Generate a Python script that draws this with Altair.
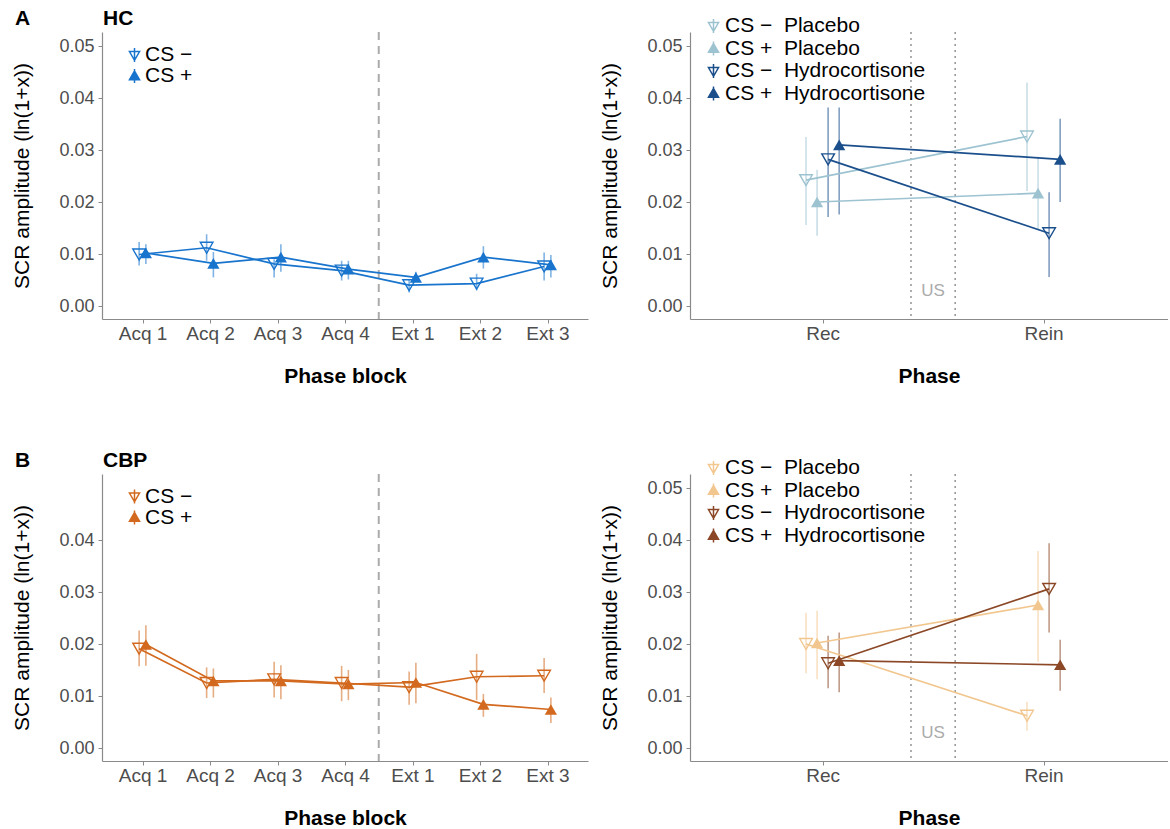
import json
import altair as alt
import pandas as pd

# ---------------- data ----------------
blocks = ["Acq 1", "Acq 2", "Acq 3", "Acq 4", "Ext 1", "Ext 2", "Ext 3"]
phases = ["Rec", "Rein"]
cs_labels = ["CS \u2212", "CS +"]
treat_labels = ["CS \u2212 \u00a0Placebo", "CS + \u00a0Placebo",
                "CS \u2212 \u00a0Hydrocortisone", "CS + \u00a0Hydrocortisone"]

# A: HC, phase blocks
hc_minus_mean = [0.0099, 0.0112, 0.0081, 0.0068, 0.0040, 0.0043, 0.0076]
hc_minus_lo = [0.0078, 0.0087, 0.0055, 0.0049, 0.0026, 0.0030, 0.0049]
hc_minus_hi = [0.0123, 0.0138, 0.0090, 0.0087, 0.0051, 0.0062, 0.0103]
hc_plus_mean = [0.0102, 0.0082, 0.0094, 0.0071, 0.0055, 0.0094, 0.0079]
hc_plus_lo = [0.0081, 0.0055, 0.0066, 0.0051, 0.0047, 0.0072, 0.0055]
hc_plus_hi = [0.0119, 0.0104, 0.0119, 0.0087, 0.0066, 0.0115, 0.0098]

# B: CBP, phase blocks
cbp_minus_mean = [0.0191, 0.0125, 0.0132, 0.0125, 0.0117, 0.0137, 0.0139]
cbp_minus_lo = [0.0157, 0.0096, 0.0097, 0.0090, 0.0083, 0.0092, 0.0106]
cbp_minus_hi = [0.0226, 0.0155, 0.0166, 0.0158, 0.0147, 0.0181, 0.0173]
cbp_plus_mean = [0.0199, 0.0129, 0.0129, 0.0123, 0.0126, 0.0084, 0.0074]
cbp_plus_lo = [0.0158, 0.0097, 0.0094, 0.0092, 0.0086, 0.0060, 0.0048]
cbp_plus_hi = [0.0236, 0.0153, 0.0159, 0.0150, 0.0164, 0.0104, 0.0097]

# A right: HC by treatment (rows: CS- Pl, CS+ Pl, CS- HC, CS+ HC; cols: Rec, Rein)
hc_treat_mean = [[0.0242, 0.0326], [0.0200, 0.0217], [0.0282, 0.0140], [0.0310, 0.0282]]
hc_treat_lo = [[0.0156, 0.0221], [0.0135, 0.0148], [0.0171, 0.0056], [0.0176, 0.0200]]
hc_treat_hi = [[0.0325, 0.0430], [0.0262, 0.0287], [0.0382, 0.0219], [0.0382, 0.0360]]

# B right: CBP by treatment
cbp_treat_mean = [[0.0200, 0.0062], [0.0202, 0.0275], [0.0163, 0.0306], [0.0168, 0.0160]]
cbp_treat_lo = [[0.0144, 0.0033], [0.0132, 0.0166], [0.0115, 0.0222], [0.0107, 0.0110]]
cbp_treat_hi = [[0.0260, 0.0089], [0.0264, 0.0379], [0.0216, 0.0394], [0.0222, 0.0208]]

us_label = ["US"]

# ---------------- styles ----------------
FONT = "Liberation Sans"
hc_colors = ["#1874CD", "#1874CD"]
cbp_colors = ["#D2691E", "#D2691E"]
hc_treat_colors = ["#9DC3D1", "#9DC3D1", "#1B4F8C", "#1B4F8C"]
cbp_treat_colors = ["#F2C78F", "#F2C78F", "#8B4726", "#8B4726"]

DOWN = "M0,-1L0,1M-0.72,-0.5L0.72,-0.5L0,0.75Z"
UP = "M0,-1L0,1M-0.72,0.55L0.72,0.55L0,-0.7Z"


def block_df(mm, ml, mh, pm, pl, ph):
    rows = []
    for k, (m, lo, hi) in enumerate([(mm, ml, mh), (pm, pl, ph)]):
        for i, b in enumerate(blocks):
            rows.append({"cat": b, "idx": i + 1, "label": cs_labels[k], "g": k,
                         "mean": m[i], "lo": lo[i], "hi": hi[i]})
    return pd.DataFrame(rows)


def phase_df(means, los, his):
    rows = []
    for k in range(4):
        for i, p in enumerate(phases):
            rows.append({"cat": p, "idx": i + 1, "label": treat_labels[k], "g": k,
                         "mean": means[k][i], "lo": los[k][i], "hi": his[k][i]})
    return pd.DataFrame(rows)


def panel(df, labels, colors, dodge_expr, xdom, xnames, xtitle, width, ytick_vals,
          vlines, vdash, vwidth, vcolor, us, title, letter, leg_x, leg_y, leg_offset, leg_rowpad):
    height = 287
    xscale = alt.Scale(domain=xdom, nice=False, zero=False)
    yscale = alt.Scale(domain=[-0.0025, 0.0527], nice=False, zero=False)
    xaxis = alt.Axis(values=list(range(1, len(xnames) + 1)),
                     labelExpr=f"{json.dumps(xnames)}[datum.value - 1]",
                     title=xtitle)
    yaxis = alt.Axis(values=ytick_vals, format=".2f", title="SCR amplitude (ln(1+x))")

    def X(f):
        return alt.X(f"{f}:Q", scale=xscale, axis=xaxis)

    def Y(f):
        return alt.Y(f"{f}:Q", scale=yscale, axis=yaxis)

    # colour scale for the marks (domain listed in reverse so it stays separate from the legend scales)
    color = alt.Color("label:N", scale=alt.Scale(domain=labels[::-1], range=colors[::-1]), legend=None)
    base = alt.Chart(df).transform_calculate(xpos=dodge_expr)

    layers = []
    vdf = pd.DataFrame({"x": vlines})
    layers.append(alt.Chart(vdf).mark_rule(color=vcolor, strokeDash=vdash, strokeWidth=vwidth)
                  .encode(x=X("x")))
    if us:
        udf = pd.DataFrame({"x": [1.5], "y": [0.0028], "t": us_label})
        layers.append(alt.Chart(udf).mark_text(font=FONT, fontSize=17, color="#ababab")
                      .encode(x=X("x"), y=Y("y"), text="t:N"))
    layers.append(base.mark_rule(strokeWidth=1.6, opacity=0.55)
                  .encode(x=X("xpos"), y=Y("lo"), y2="hi:Q", color=color))
    layers.append(base.mark_line(strokeWidth=1.7)
                  .encode(x=X("xpos"), y=Y("mean"), color=color, detail="label:N"))
    layers.append(base.transform_filter("datum.g % 2 == 0")
                  .mark_point(shape="triangle-down", filled=False, size=160, strokeWidth=1.4, opacity=1)
                  .encode(x=X("xpos"), y=Y("mean"), color=color))
    layers.append(base.transform_filter("datum.g % 2 == 1")
                  .mark_point(shape="triangle-up", filled=True, size=150, opacity=1)
                  .encode(x=X("xpos"), y=Y("mean"), color=color))

    # legend (drawn by the legend of stroke/fill/shape scales; its own layer has no visible marks)
    fills = ["transparent" if i % 2 == 0 else c for i, c in enumerate(colors)]
    paths = [DOWN if i % 2 == 0 else UP for i in range(len(labels))]
    leg = alt.Legend(orient="none", legendX=leg_x, legendY=leg_y, title=None,
                     labelFont=FONT, labelFontSize=21, labelColor="black", labelLimit=0,
                     labelOffset=leg_offset, rowPadding=leg_rowpad, symbolSize=196,
                     symbolStrokeWidth=1.5, symbolOpacity=1, padding=0)
    layers.append(alt.Chart(df).transform_filter("false").mark_point(opacity=1, strokeWidth=1.5)
                  .encode(stroke=alt.Stroke("label:N", scale=alt.Scale(domain=labels, range=colors), legend=leg),
                          fill=alt.Fill("label:N", scale=alt.Scale(domain=labels, range=fills), legend=leg),
                          shape=alt.Shape("label:N", scale=alt.Scale(domain=labels, range=paths), legend=leg)))

    for i, txt in enumerate([letter, title]):
        layers.append(alt.Chart(pd.DataFrame({"t": [txt]}))
                      .mark_text(font=FONT, fontSize=21, fontWeight="bold", align="left",
                                 baseline="alphabetic", color="black")
                      .encode(x=alt.value(-87 if i == 0 else 1), y=alt.value(-7), text="t:N"))
    return alt.layer(*layers).properties(width=width, height=height)


left_dodge = "datum.idx + (datum.g - 0.5) * 0.1"
right_dodge = "datum.idx + (datum.g - 1.5) * 0.05"

tl = panel(block_df(hc_minus_mean, hc_minus_lo, hc_minus_hi, hc_plus_mean, hc_plus_lo, hc_plus_hi),
           cs_labels, hc_colors, left_dodge, [0.4, 7.6], blocks, "Phase block", 486,
           [0, 0.01, 0.02, 0.03, 0.04, 0.05], [4.5], [8, 6], 2, "#ababab", False, "HC", "A",
           22, 12.5, 0, -2)
tr = panel(phase_df(hc_treat_mean, hc_treat_lo, hc_treat_hi),
           treat_labels, hc_treat_colors, right_dodge, [0.4, 2.563], phases, "Phase", 478,
           [0, 0.01, 0.02, 0.03, 0.04, 0.05], [1.4, 1.6], [2, 4], 1.6, "#9a9a9a", True, "", "",
           13, -16.5, 1, 0.5)
bl = panel(block_df(cbp_minus_mean, cbp_minus_lo, cbp_minus_hi, cbp_plus_mean, cbp_plus_lo, cbp_plus_hi),
           cs_labels, cbp_colors, left_dodge, [0.4, 7.6], blocks, "Phase block", 486,
           [0, 0.01, 0.02, 0.03, 0.04], [4.5], [8, 6], 2, "#ababab", False, "CBP", "B",
           22, 12, 0, -1)
br = panel(phase_df(cbp_treat_mean, cbp_treat_lo, cbp_treat_hi),
           treat_labels, cbp_treat_colors, right_dodge, [0.4, 2.563], phases, "Phase", 478,
           [0, 0.01, 0.02, 0.03, 0.04, 0.05], [1.4, 1.6], [2, 4], 1.6, "#9a9a9a", True, "", "",
           13, -16.5, 1, 0.5)

indep = dict(color="independent", stroke="independent", fill="independent", shape="independent")
chart = alt.vconcat(
    alt.hconcat(tl, tr, spacing=11).resolve_scale(**indep),
    alt.hconcat(bl, br, spacing=11).resolve_scale(**indep),
    spacing=64,
).resolve_scale(**indep).properties(
    padding={"left": 11, "top": 8, "right": 0, "bottom": 0},
    background="white",
).configure_view(stroke=None).configure_axis(
    grid=False, domainColor="#8a8a8a", domainWidth=1.2, tickColor="#8a8a8a", tickSize=4,
    labelColor="#4d4d4d", labelFont=FONT, titleFont=FONT, titleColor="black",
    labelFlush=False, labelOverlap=False,
).configure_axisX(labelFontSize=19, labelPadding=1, titleFontSize=21, titleFontWeight="bold", titlePadding=22
).configure_axisY(labelFontSize=18, labelPadding=4, titleFontSize=21, titleFontWeight="normal", titlePadding=26)

chart.save("out.html", embed_options={"renderer": "svg", "actions": False})
